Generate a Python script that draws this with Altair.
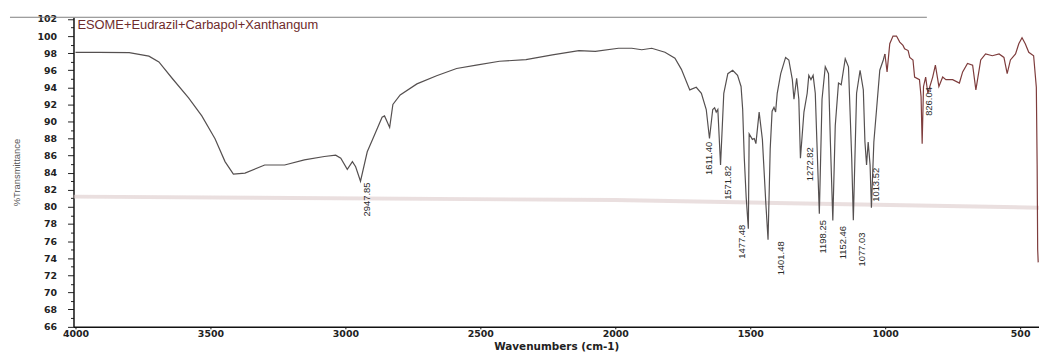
import altair as alt
import pandas as pd

# ---- spectrum (wavenumber cm-1, %T) ----
wavenumber = [4000, 3912, 3801, 3728, 3691, 3642, 3581, 3532, 3483, 3446, 3415, 3372, 3299, 3225,
              3152, 3078, 3036, 3017, 2993, 2974, 2962, 2944, 2919, 2895, 2864, 2855, 2836, 2824,
              2797, 2735, 2662, 2588, 2515, 2429, 2331, 2233, 2135, 2074, 1988, 1939, 1902, 1865,
              1816, 1779, 1755, 1724, 1700, 1681, 1663, 1651, 1639, 1632, 1626, 1620, 1610, 1598,
              1583, 1565, 1547, 1534, 1528, 1522, 1515, 1507, 1504, 1492, 1485, 1479, 1467, 1455,
              1442, 1434, 1426, 1419, 1412, 1406, 1400, 1387, 1369, 1357, 1344, 1338, 1328, 1320,
              1314, 1301, 1289, 1283, 1275, 1267, 1259, 1253, 1244, 1234, 1222, 1210, 1203, 1194,
              1185, 1173, 1163, 1148, 1136, 1124, 1118, 1106, 1093, 1081, 1075, 1069, 1063, 1056,
              1051, 1042, 1032, 1020, 1007, 1001]
transmittance = [98.1, 98.1, 98.05, 97.65, 96.97, 95.06, 92.76, 90.65, 87.98, 85.3, 83.84, 83.96, 84.9, 84.9,
                 85.5, 85.9, 86.06, 85.7, 84.4, 85.3, 84.7, 83.0, 86.45, 88.2, 90.5, 90.65, 89.3, 92.0,
                 93.1, 94.4, 95.36, 96.2, 96.6, 97.05, 97.24, 97.8, 98.3, 98.2, 98.57, 98.57, 98.4, 98.57,
                 98.1, 97.4, 96.1, 93.7, 94.0, 93.3, 91.4, 88.0, 91.4, 91.6, 91.1, 91.4, 84.9, 93.3,
                 95.6, 96.0, 95.4, 94.1, 91.4, 85.7, 81.1, 77.45, 88.55, 87.9, 88.0, 87.4, 91.1, 87.9,
                 80.3, 76.15, 86.8, 91.2, 91.65, 91.1, 93.3, 95.6, 97.5, 97.2, 94.9, 92.6, 95.06, 92.6,
                 85.7, 91.1, 93.3, 95.4, 94.9, 95.4, 93.3, 87.6, 79.2, 92.6, 96.4, 95.6, 87.6, 78.4,
                 89.5, 94.5, 94.3, 97.35, 96.4, 85.7, 78.45, 93.3, 96.0, 93.7, 87.6, 84.9, 87.6, 84.9,
                 79.9, 87.6, 91.4, 96.0, 97.2, 97.9]

# fingerprint tail (printed in red-brown on the sheet)
wavenumber_tail = [1001, 993, 983, 971, 958, 946, 934, 928, 915, 909, 897, 891, 873, 867, 863, 858,
                   850, 842, 824, 814, 801, 787, 775, 750, 725, 713, 695, 676, 664, 646, 628, 603,
                   578, 560, 548, 536, 517, 505, 493, 481, 468, 450, 440, 437, 435, 433]
transmittance_tail = [97.9, 95.8, 99.1, 100.0, 100.0, 99.3, 98.9, 98.5, 98.3, 97.5, 97.2, 95.2, 94.9, 92.9, 87.4, 94.1,
                      95.2, 93.3, 95.2, 96.6, 94.1, 95.2, 94.9, 94.9, 94.5, 95.8, 96.8, 96.6, 93.7, 97.2, 97.9, 97.7,
                      97.9, 97.5, 95.6, 97.2, 97.9, 99.1, 99.8, 99.1, 98.1, 97.7, 94.0, 85.0, 75.0, 73.5]

# ---- peak annotations ----
peak_labels = ["2947.85", "1611.40", "1571.82", "1477.48", "1401.48", "1272.82",
               "1198.25", "1152.46", "1077.03", "1013.52", "826.04"]
peak_label_wn = [2919, 1654, 1581, 1531, 1386, 1279, 1232, 1158, 1085, 1033, 836]
peak_label_t = [80.86, 85.68, 82.81, 75.92, 73.97, 84.99, 76.5, 75.81, 75.0, 82.58, 92.34]

sample_name = "ESOME+Eudrazil+Carbapol+Xanthangum"
x_tick_values = [4000, 3500, 3000, 2500, 2000, 1500, 1000, 500]
y_tick_values = [66 + 0.5 * i for i in range(73)]

# scan artefact (faint fold band across the sheet)
band_wn = [4007, 2000, 430]
band_t = [81.2, 80.8, 79.9]

df_main = pd.DataFrame({"wn": wavenumber, "t": transmittance})
df_tail = pd.DataFrame({"wn": wavenumber_tail, "t": transmittance_tail})
df_peaks = pd.DataFrame({"wn": peak_label_wn, "t": peak_label_t, "label": peak_labels})
df_band = pd.DataFrame({"wn": band_wn, "t": band_t})
df_title = pd.DataFrame({"wn": [3993], "t": [101.3], "label": [sample_name]})

xscale = alt.Scale(domain=[4007.4, 430.1], nice=False, zero=False)
yscale = alt.Scale(domain=[65.95, 102.2], nice=False, zero=False)

x_axis = alt.Axis(values=x_tick_values, format="d", title="Wavenumbers (cm-1)", grid=False,
                  labelFont="DejaVu Sans", labelFontSize=9.5, labelFontWeight="bold", labelColor="#222",
                  titleFont="DejaVu Sans", titleFontSize=10.5, titleFontWeight="bold", titleColor="#222",
                  tickSize=2, labelPadding=0, titlePadding=3, domainColor="#111", domainWidth=1.5,
                  tickColor="#111", labelOverlap=False, labelFlush=False)
y_axis = alt.Axis(values=y_tick_values, format="d", title="%Transmittance", grid=False,
                  labelExpr="datum.value % 2 === 0 ? datum.label : ''",
                  labelFont="DejaVu Sans", labelFontSize=9.5, labelFontWeight="bold", labelColor="#222",
                  titleFont="Liberation Sans", titleFontSize=9.5, titleFontWeight="normal", titleColor="#555",
                  tickSize={"condition": {"test": "datum.value % 2 === 0", "value": 6}, "value": 3},
                  labelPadding=11, titlePadding=16, domainColor="#111", domainWidth=1.5,
                  tickColor="#222", labelOverlap=False, labelFlush=False)

X = alt.X("wn:Q", scale=xscale, axis=x_axis)
Y = alt.Y("t:Q", scale=yscale, axis=y_axis)

band = alt.Chart(df_band).mark_line(color="#dccaca", strokeWidth=4, opacity=0.6).encode(x=X, y=Y)

line_main = alt.Chart(df_main).mark_line(color="#555050", strokeWidth=1.2).encode(
    x=X, y=Y, order="wn:Q")
line_tail = alt.Chart(df_tail).mark_line(color="#7e3c3c", strokeWidth=1.2).encode(x=X, y=Y)

peaks = alt.Chart(df_peaks).mark_text(angle=270, align="center", baseline="middle",
                                      font="Liberation Sans", fontSize=9.5, color="#2a2a2a").encode(
    x=X, y=Y, text="label:N")

title_mark = alt.Chart(df_title).mark_text(align="left", baseline="middle", font="Liberation Sans",
                                           fontSize=13, color="#6e2b2b").encode(
    x=X, y=Y, text="label:N")

top_rule = alt.Chart(df_title).mark_rule(color="#808080", strokeWidth=1).encode(
    x=alt.value(-64), x2=alt.value(860), y=alt.value(0)
)

chart = alt.layer(band, line_main, line_tail, peaks, title_mark, top_rule).properties(
    width=973, height=312,
    padding={"left": 66, "top": 8, "right": 0, "bottom": 26},
    autosize=alt.AutoSizeParams(type="none"),
    background="white",
).configure_view(stroke=None)

chart.save("out.html", embed_options={"renderer": "svg", "actions": False})
